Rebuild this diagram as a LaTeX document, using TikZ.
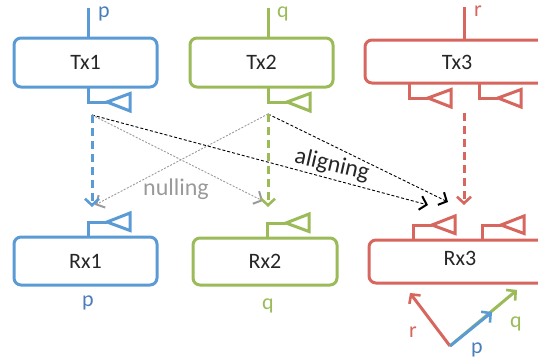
\documentclass[tikz,border=0pt]{standalone}
\usepackage{fontspec}
\setmainfont{Carlito}
\usetikzlibrary{arrows.meta}
\definecolor{cblue}{HTML}{5B9BD5}
\definecolor{cbluet}{HTML}{4A7EBB}
\definecolor{cgreen}{HTML}{9BBB59}
\definecolor{cred}{HTML}{D6665E}
\definecolor{ctext}{HTML}{262626}
\definecolor{cgray}{HTML}{9A9A9A}
\tikzset{
  box/.style={draw=#1, line width=3pt, rounded corners=7pt, fill=white, inner sep=0pt, text=ctext, font=\fontsize{22}{26}\selectfont},
  lbl/.style={text=#1, inner sep=0pt, font=\fontsize{22}{26}\selectfont},
  feed/.style={draw=#1, line width=3pt},
  ant/.style={draw=#1, line width=3pt, line join=miter},
  vtip/.style={-{Straight Barb[length=6.5pt,width=14pt,line width=2.6pt]}},
  colarr/.style={draw=#1, line width=3pt, dash pattern=on 8pt off 5pt, vtip},
  blkarr/.style={draw=black, line width=0.9pt, dash pattern=on 3pt off 2pt, -{Straight Barb[length=6.5pt,width=14pt,line width=2pt]}},
  grayarr/.style={draw=cgray, line width=0.9pt, dash pattern=on 2pt off 1.5pt, -{Straight Barb[length=6.5pt,width=14pt,line width=2pt]}},
  vecarr/.style={draw=#1, line width=3pt, vtip},
  antdn/.pic={\draw[pic actions] (0,0) -- (0,15) -- (19,15); \draw[pic actions] (19,15) -- (42,6.5) -- (42,24) -- cycle;},
  antup/.pic={\draw[pic actions] (0,0) -- (0,-15) -- (19,-15); \draw[pic actions] (19,-15) -- (42,-24) -- (42,-6.5) -- cycle;}
}
\begin{document}
\begin{tikzpicture}[x=1pt,y=-1pt]
\useasboundingbox (0,0) rectangle (538,364);
\clip (0,0) rectangle (538,364);
% Transmitters
\node[box=cblue, minimum width=143pt, minimum height=49pt] (tx1) at (85.5,62.5) {Tx1};
\node[box=cgreen, minimum width=143pt, minimum height=49pt] (tx2) at (261.5,62.5) {Tx2};
\node[box=cred, minimum width=195pt, minimum height=43pt] (tx3) at (462.5,61.5) {};
\node[lbl=ctext] (tx3l) at (457,62) {Tx3};
% feeds
\draw[feed=cblue] (88,8) -- (88,38);
\draw[feed=cgreen] (268,8) -- (268,38);
\draw[feed=cred] (464,7) -- (464,40);
\node[lbl=cbluet] (lp1) at (104,14) {p};
\node[lbl=cgreen] (lq1) at (283,14) {q};
\node[lbl=cred] (lr1) at (478,11) {r};
% tx antennas
\pic[ant=cblue] at (88,87) {antdn};
\pic[ant=cgreen] at (268,87) {antdn};
\pic[ant=cred] at (409,83) {antdn};
\pic[ant=cred] at (479,83) {antdn};
% Receivers
\node[box=cblue, minimum width=143pt, minimum height=48pt] (rx1) at (85.5,261) {Rx1};
\node[box=cgreen, minimum width=144pt, minimum height=47pt] (rx2) at (265,261.5) {Rx2};
\node[box=cred, minimum width=191pt, minimum height=43pt] (rx3) at (464.5,261.5) {};
\node[lbl=ctext] (rx3l) at (460,258) {Rx3};
\pic[ant=cblue] at (88,237) {antup};
\pic[ant=cgreen] at (267,238) {antup};
\pic[ant=cred] at (413,240) {antup};
\pic[ant=cred] at (482,240) {antup};
\node[lbl=cbluet] (lp2) at (88,303) {p};
\node[lbl=cgreen] (lq2) at (268,306) {q};
% sources and targets
\coordinate (s1) at (92,115);
\coordinate (s2) at (268,114);
\coordinate (s3) at (464,113);
\coordinate (d1) at (92,207);
\coordinate (d2) at (268,207);
\coordinate (d3) at (464,205);
\coordinate (a1) at (428,205);
\coordinate (a2) at (448,202);
\coordinate (n1) at (263,201);
\coordinate (n2) at (95,205);
% gray nulling
\draw[grayarr] (s1) -- (n1);
\draw[grayarr] (s2) -- (n2);
% black aligning
\draw[blkarr] (s1) -- (a1);
\draw[blkarr] (s2) -- (a2);
% direct
\draw[colarr=cblue] (s1) -- (d1);
\draw[colarr=cgreen] (s2) -- (d2);
\draw[colarr=cred] (s3) -- (d3);
\node[lbl=cgray, font=\fontsize{24}{28}\selectfont] (nul) at (176,189) {nulling};
\node[lbl=ctext, font=\fontsize{24}{28}\selectfont, rotate=-13] (ali) at (332,165) {aligning};
% vectors
\coordinate (o) at (450,346);
\coordinate (vr) at (410,293);
\coordinate (vq) at (517,290);
\coordinate (vp) at (492,312);
\draw[vecarr=cred] (o) -- (vr);
\draw[vecarr=cgreen] (o) -- (vq);
\draw[vecarr=cblue] (o) -- (vp);
\node[lbl=cred] (lr2) at (413,332) {r};
\node[lbl=cbluet] (lp3) at (477,350) {p};
\node[lbl=cgreen] (lq3) at (516,324) {q};
\end{tikzpicture}
\end{document}
